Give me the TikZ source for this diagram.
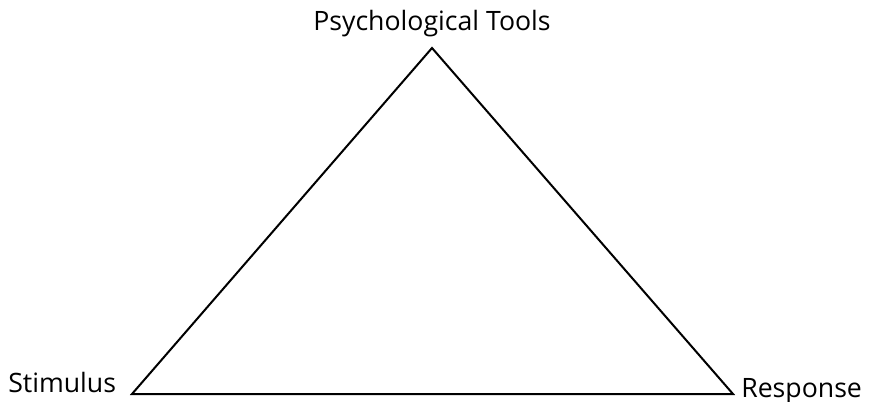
\documentclass[tikz,border=0pt]{standalone}
\usepackage{fontspec}
\setmainfont{Open Sans}
\usetikzlibrary{positioning}
\tikzset{
  corner/.style={inner sep=0pt,font=\fontsize{20}{24}\selectfont,text=black},
  side/.style={draw=black,line width=1.5pt,line join=miter},
}
\begin{document}
\begin{tikzpicture}[x=0.75pt,y=-0.75pt]
  \useasboundingbox (0,0) rectangle (870,402);
  \coordinate (top) at (432,48);
  \coordinate (left) at (132,394);
  \coordinate (right) at (733,394);
  \draw[side] (top) -- (left) -- (right) -- cycle;
  \node[corner,anchor=base] (tools) at (432,31) {Psychological Tools};
  \node[corner,anchor=base west] (stim) at (8,392) {Stimulus};
  \node[corner,anchor=base west] (resp) at (741,397) {Response};
\end{tikzpicture}
\end{document}
